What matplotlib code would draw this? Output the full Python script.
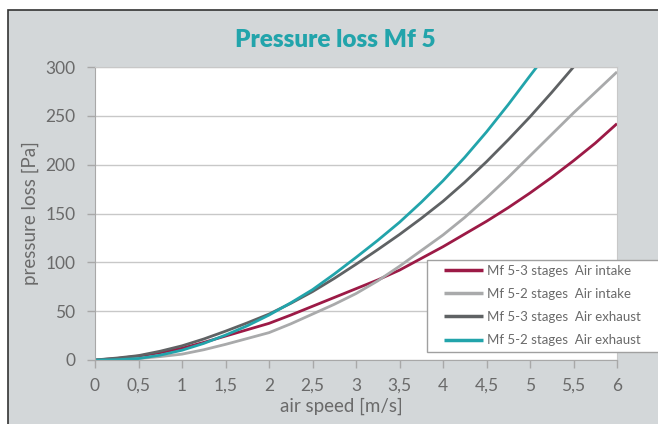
import numpy as np
import matplotlib
matplotlib.use("Agg")
from matplotlib import pyplot as plt
from matplotlib.patches import Rectangle

# air speed [m/s]
speed = np.arange(0, 6.01, 0.25)

# pressure loss [Pa]
mf53_intake = [0, 1.5, 4, 7.5, 12, 18, 24.5, 31, 37.5, 46, 55, 64, 73,
               82, 92, 104, 116, 129, 142, 156, 171, 187, 204, 222, 242]
mf52_intake = [0, 0.5, 1.5, 3.5, 6, 10.5, 16, 22, 28, 37, 47, 57, 68,
               81, 96, 112, 128, 146, 166, 187, 209, 231, 253, 274, 295]
mf53_exhaust = [0, 2, 4.5, 9, 14.5, 21.5, 29.5, 38, 47, 58, 70, 83.5, 98,
                113, 128.5, 145, 162.5, 182, 203, 225.5, 249, 274, 300, 327, 354]
mf52_exhaust = [0, 0.3, 1.5, 5, 10, 17, 25.5, 35, 46, 58.5, 72, 88, 105,
                122.5, 141, 161.5, 183.5, 207.5, 233.5, 261.5, 291, 320, 350, 380, 410]

labels = ["Mf 5-3 stages  Air intake", "Mf 5-2 stages  Air intake",
          "Mf 5-3 stages  Air exhaust", "Mf 5-2 stages  Air exhaust"]
series = [mf53_intake, mf52_intake, mf53_exhaust, mf52_exhaust]
colors = ["#9c1a46", "#a9aaab", "#5f6264", "#22a4ab"]

xticks = np.arange(0, 6.01, 0.5)
xticklabels = ["0", "0,5", "1", "1,5", "2", "2,5", "3", "3,5", "4", "4,5", "5", "5,5", "6"]
yticks = [0, 50, 100, 150, 200, 250, 300]

plt.rcParams['font.family'] = ['Lato', 'DejaVu Sans']
textgray = "#6a6a6a"
panel = "#d3d7d9"

W, H = 658, 424
fig = plt.figure(figsize=(W / 100, H / 100), dpi=100)
fig.patch.set_facecolor("white")
# gray panel with dark border on top/left
fig.add_artist(Rectangle((8 / W, -0.01), 1, 1.01 - 10 / H, transform=fig.transFigure,
                         facecolor=panel, edgecolor="#333333", linewidth=1.2, zorder=-10))

ax = fig.add_axes([95 / W, 64 / H, 522 / W, 293 / H])
ax.set_facecolor("white")

for vals, lab, col in zip(series, labels, colors):
    ax.plot(speed, vals, color=col, linewidth=2, label=lab, solid_capstyle="butt")

ax.set_xlim(0, 6)
ax.set_ylim(0, 300)
ax.set_xticks(xticks)
ax.set_xticklabels(xticklabels)
ax.set_yticks(yticks)
ax.grid(axis="y", color="#c8c8c8", linewidth=1)
ax.set_axisbelow(True)
for side in ["left", "bottom"]:
    ax.spines[side].set_color("#a8a8a8")
for side in ["top", "right"]:
    ax.spines[side].set_color("#c8c8c8")
ax.tick_params(axis="both", colors="#a8a8a8", labelcolor=textgray, labelsize=12.5,
               length=6, width=1, direction="out")
ax.tick_params(axis="x", pad=7)
ax.tick_params(axis="y", pad=8)

fig.text(341 / W, 1 - 406 / H, "air speed [m/s]", ha="center", va="center",
         fontsize=13.5, color=textgray)
fig.text(30 / W, 1 - 213 / H, "pressure loss [Pa]", ha="center", va="center",
         rotation=90, fontsize=13.5, color=textgray)

fig.text(0.51, 0.905, "Pressure loss Mf 5", ha="center", va="center",
         fontsize=17.5, fontweight="heavy", color="#22a4ab")

# legend frame runs off the right edge like in the original
ax.add_patch(Rectangle((427 / W, 1 - 352 / H), 0.5, 92 / H, transform=fig.transFigure,
                       facecolor="white", edgecolor="#a0a0a0", linewidth=1,
                       zorder=4, clip_on=False))
leg = ax.legend(loc="upper left", bbox_to_anchor=(441 / W, 1 - 262 / H),
                bbox_transform=fig.transFigure, fontsize=9.5, frameon=False,
                handlelength=3.0, handletextpad=0.3, labelspacing=0.85,
                borderpad=0.2, borderaxespad=0)
leg.set_zorder(5)
for t in leg.get_texts():
    t.set_color(textgray)
for h in leg.legend_handles:
    h.set_linewidth(2.5)

fig.savefig("out.png", dpi=100)
